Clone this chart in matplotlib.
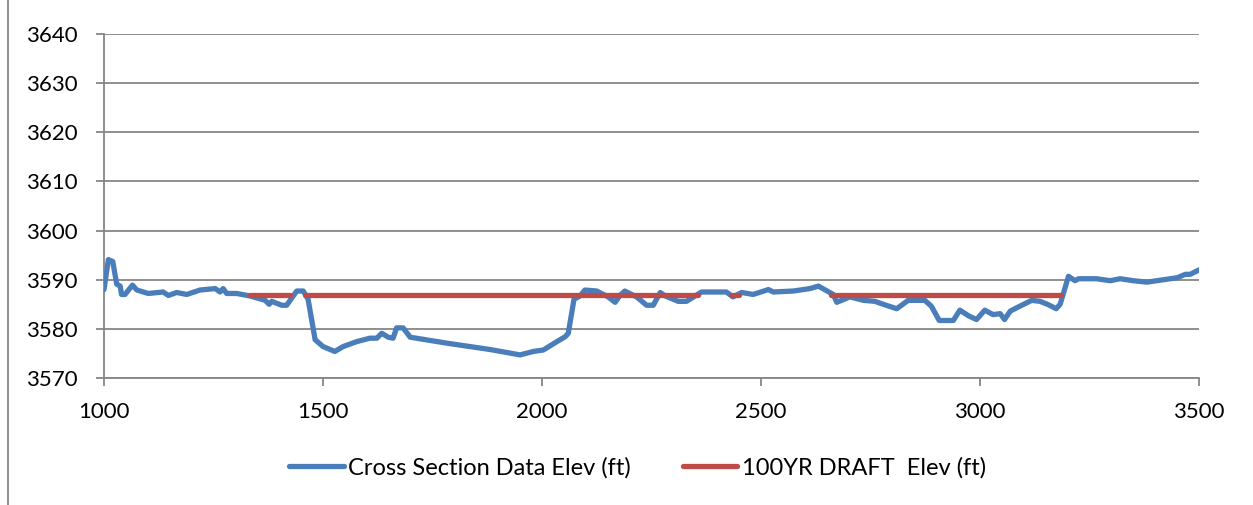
import numpy as np
import matplotlib
matplotlib.use("Agg")
import matplotlib.pyplot as plt
from matplotlib.patches import Rectangle

# ---- data ----
station = [1000, 1010, 1020, 1029, 1037, 1040, 1048, 1065, 1075, 1101, 1135, 1147, 1166, 1189,
           1219, 1254, 1265, 1272, 1280, 1303, 1333, 1368, 1377, 1383, 1406, 1417, 1440, 1455,
           1466, 1482, 1500, 1527, 1546, 1577, 1607, 1623, 1634, 1649, 1660, 1668, 1683, 1699,
           1782, 1881, 1950, 1980, 2003, 2034, 2053, 2060, 2073, 2087, 2098, 2125, 2151, 2167,
           2178, 2189, 2216, 2239, 2254, 2270, 2281, 2311, 2330, 2364, 2421, 2436, 2456, 2482,
           2517, 2528, 2574, 2612, 2631, 2665, 2673, 2703, 2734, 2760, 2779, 2810, 2836, 2874,
           2889, 2907, 2939, 2954, 2975, 2992, 3011, 3030, 3046, 3056, 3069, 3084, 3118, 3137,
           3154, 3174, 3183, 3202, 3217, 3225, 3266, 3297, 3320, 3350, 3381, 3419, 3450, 3469,
           3480, 3500]
ground_elev = [3588.0, 3594.1, 3593.7, 3589.1, 3588.7, 3587.0, 3587.0, 3588.9, 3587.9, 3587.2,
               3587.5, 3586.8, 3587.4, 3587.0, 3587.9, 3588.2, 3587.5, 3588.2, 3587.2, 3587.2,
               3586.7, 3585.8, 3585.0, 3585.6, 3584.8, 3584.8, 3587.7, 3587.7, 3586.0, 3577.8,
               3576.4, 3575.4, 3576.4, 3577.4, 3578.1, 3578.1, 3579.1, 3578.3, 3578.1, 3580.2,
               3580.2, 3578.3, 3577.1, 3575.8, 3574.7, 3575.4, 3575.7, 3577.4, 3578.4, 3579.1,
               3586.0, 3586.7, 3587.9, 3587.7, 3586.5, 3585.4, 3586.8, 3587.7, 3586.5, 3584.8,
               3584.8, 3587.4, 3586.7, 3585.6, 3585.6, 3587.5, 3587.5, 3586.5, 3587.4, 3587.0,
               3588.0, 3587.5, 3587.7, 3588.2, 3588.7, 3587.0, 3585.4, 3586.5, 3585.8, 3585.6,
               3585.0, 3584.1, 3585.8, 3585.8, 3584.6, 3581.7, 3581.7, 3583.8, 3582.6, 3581.9,
               3583.8, 3582.9, 3583.1, 3581.9, 3583.6, 3584.3, 3585.8, 3585.6, 3585.0, 3584.1,
               3585.0, 3590.7, 3589.8, 3590.2, 3590.2, 3589.8, 3590.2, 3589.8, 3589.5, 3590.0,
               3590.4, 3591.1, 3591.1, 3592.0]

wse_station = [1333, 1424, 1440, 1460, 2357, 2395, 2432, 2450, 2550, 2660, 3186]
wse_elev = [3586.8, 3586.8, np.nan, 3586.8, 3586.8, np.nan, 3586.8, 3586.8, np.nan, 3586.8, 3586.8]

series_names = ["Cross Section Data Elev (ft)", "100YR DRAFT  Elev (ft)"]
x_ticks = [1000, 1500, 2000, 2500, 3000, 3500]
y_ticks = [3570, 3580, 3590, 3600, 3610, 3620, 3630, 3640]

# ---- style ----
plt.rcParams['font.family'] = ['Lato', 'DejaVu Sans']
W, H, DPI = 1253, 505, 100
fig = plt.figure(figsize=(W / DPI, H / DPI), dpi=DPI)
ax = fig.add_axes([104 / W, 1 - 378 / H, (1199 - 104) / W, (378 - 34) / H])

blue = "#4A7EBB"
red = "#BE4B48"
gray = "#868686"

ax.plot(station, ground_elev, color=blue, lw=3.8, solid_capstyle='round',
        solid_joinstyle='round', label=series_names[0], zorder=3)
ax.plot(wse_station, wse_elev, color=red, lw=3.8, solid_capstyle='round',
        label=series_names[1], zorder=4)

ax.set_xlim(1000, 3500)
ax.set_ylim(3570, 3640)
ax.set_xticks(x_ticks)
ax.set_yticks(y_ticks)
ax.grid(axis='y', color=gray, lw=1.3)
ax.set_axisbelow(True)
for s in ['top', 'right']:
    ax.spines[s].set_visible(False)
for s in ['left', 'bottom']:
    ax.spines[s].set_color(gray)
    ax.spines[s].set_linewidth(1.3)
ax.tick_params(axis='both', direction='out', length=6, width=1.3, color=gray,
               labelsize=16, labelcolor='black')
ax.tick_params(axis='y', pad=13)
ax.tick_params(axis='x', pad=11)

fig.legend(loc='center', bbox_to_anchor=(0.509, 1 - 468 / H), ncol=2, frameon=False,
           fontsize=17, handlelength=2.3, handletextpad=0.2, columnspacing=2.2)

fig.add_artist(Rectangle((7.5 / W, -0.1), 1.2, 1.1 + (1 - 5 / H), transform=fig.transFigure,
                         fill=False, edgecolor=gray, lw=1.3))

fig.savefig("out.png", dpi=DPI)
